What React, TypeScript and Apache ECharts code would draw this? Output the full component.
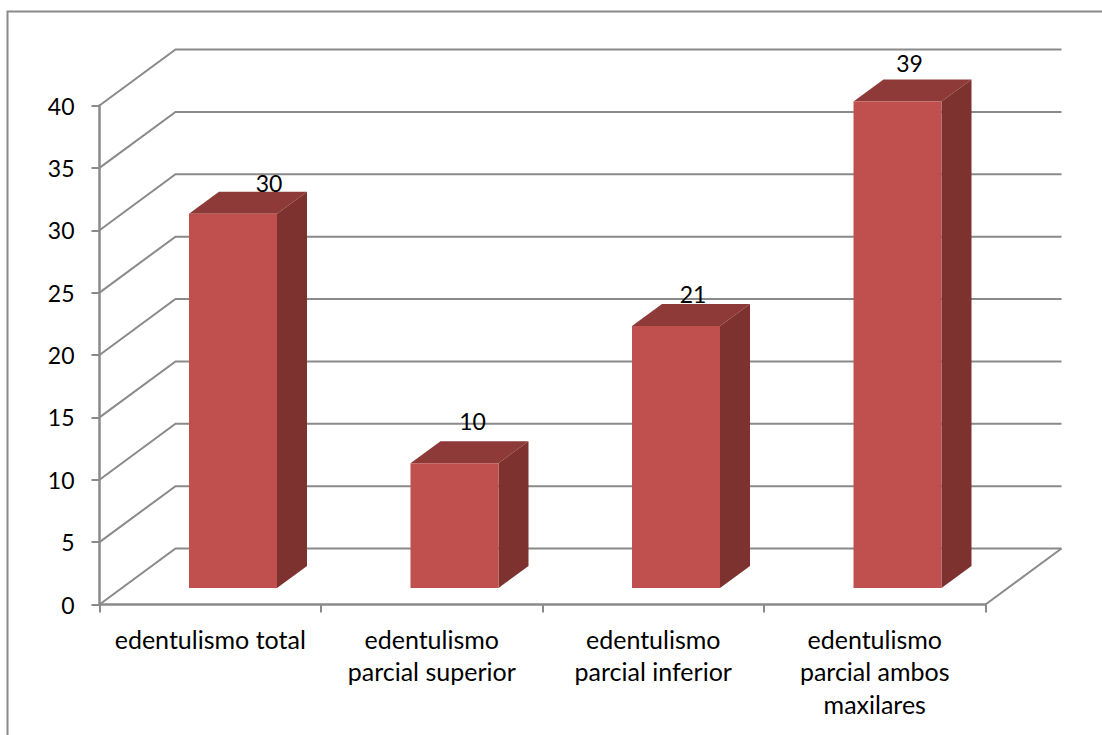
import React, { useEffect, useRef } from "react";
import * as echarts from "echarts";

const categories = [
  "edentulismo total",
  "edentulismo\nparcial superior",
  "edentulismo\nparcial inferior",
  "edentulismo\nparcial ambos\nmaxilares",
];
const seriesValues = [30, 10, 21, 39];
const yTicks = [0, 5, 10, 15, 20, 25, 30, 35, 40];

// Where each value label sits, relative to the middle of its bar's front top edge.
const labelOffsets = [
  [36, -31],
  [18, -42],
  [17, -32],
  [12, -38],
];

const FONT = "Lato, 'Open Sans', sans-serif";
const AXIS_GREY = "#8a8a8a";
const WALL = { dx: 76, dy: -56 };
const BAR = { width: 88, dx: 30, dy: -22, shiftX: 22.75, shiftY: -16.5 };

const renderWall = (params: any, api: any) => {
  const [x0, y] = api.coord([0, api.value(1)]);
  const left = x0 - api.size([1, 0])[0] / 2;
  const cs = params.coordSys;
  const isFloor = api.value(1) === 0;
  const children: any[] = [
    {
      type: "polyline",
      shape: {
        points: [
          [left, y],
          [left + WALL.dx, y + WALL.dy],
          [cs.x + cs.width + WALL.dx, y + WALL.dy],
        ],
      },
      style: { stroke: AXIS_GREY, lineWidth: 2, fill: "none" },
    },
  ];
  if (isFloor) {
    children.push({
      type: "line",
      shape: {
        x1: cs.x + cs.width,
        y1: y,
        x2: cs.x + cs.width + WALL.dx,
        y2: y + WALL.dy,
      },
      style: { stroke: AXIS_GREY, lineWidth: 2 },
    });
  }
  return { type: "group", children };
};

const renderBar = (params: any, api: any) => {
  const index = api.value(0);
  const value = api.value(1);
  const base = api.coord([index, 0]);
  const top = api.coord([index, value]);
  const x0 = base[0] + BAR.shiftX - BAR.width / 2;
  const x1 = x0 + BAR.width;
  const yBottom = base[1] + BAR.shiftY;
  const yTop = top[1] + BAR.shiftY;
  const [ox, oy] = labelOffsets[params.dataIndex];
  return {
    type: "group",
    children: [
      {
        type: "polygon",
        shape: {
          points: [
            [x0, yTop],
            [x0 + BAR.dx, yTop + BAR.dy],
            [x1 + BAR.dx, yTop + BAR.dy],
            [x1, yTop],
          ],
        },
        style: { fill: "#8e3a38" },
      },
      {
        type: "polygon",
        shape: {
          points: [
            [x1, yTop],
            [x1 + BAR.dx, yTop + BAR.dy],
            [x1 + BAR.dx, yBottom + BAR.dy],
            [x1, yBottom],
          ],
        },
        style: { fill: "#7d3230" },
      },
      {
        type: "rect",
        shape: { x: x0, y: yTop, width: BAR.width, height: yBottom - yTop },
        style: { fill: "#c0504d" },
      },
      {
        type: "text",
        x: (x0 + x1) / 2 + ox,
        y: yTop + oy,
        style: {
          text: String(value),
          fill: "#000000",
          font: `23px ${FONT}`,
          align: "center",
          verticalAlign: "middle",
        },
      },
    ],
  };
};

export default function App() {
  const ref = useRef<HTMLDivElement>(null);

  useEffect(() => {
    const chart = echarts.init(ref.current!, null, { renderer: "svg" });
    chart.setOption({
      animation: false,
      backgroundColor: "#ffffff",
      grid: { left: 99.5, top: 105.5, width: 886, height: 499 },
      graphic: [
        {
          type: "polyline",
          shape: {
            points: [
              [7.5, 735],
              [7.5, 11.5],
              [1102, 11.5],
            ],
          },
          style: { stroke: AXIS_GREY, lineWidth: 2, fill: "none" },
        },
      ],
      xAxis: {
        type: "category",
        data: categories,
        boundaryGap: true,
        axisLine: { lineStyle: { color: AXIS_GREY, width: 2.5 } },
        axisTick: { show: true, length: 8, alignWithLabel: false, lineStyle: { color: AXIS_GREY, width: 2 } },
        axisLabel: {
          interval: 0,
          color: "#000000",
          fontFamily: FONT,
          fontSize: 25,
          lineHeight: 32.5,
          margin: 18,
        },
        z: 5,
      },
      yAxis: {
        type: "value",
        min: 0,
        max: 40,
        interval: 5,
        axisLine: { show: true, lineStyle: { color: AXIS_GREY, width: 2.5 } },
        axisTick: { show: true, length: 8, lineStyle: { color: AXIS_GREY, width: 2 } },
        axisLabel: { color: "#000000", fontFamily: FONT, fontSize: 23, margin: 25 },
        splitLine: { show: false },
        z: 5,
      },
      series: [
        {
          type: "custom",
          renderItem: renderWall,
          data: yTicks.map((v) => [0, v]),
          clip: false,
          silent: true,
          z: 1,
        },
        {
          type: "custom",
          renderItem: renderBar,
          data: seriesValues.map((v, i) => [i, v]),
          clip: false,
          silent: true,
          z: 2,
        },
      ],
    });
    return () => chart.dispose();
  }, []);

  return <div ref={ref} style={{ position: "fixed", left: 0, top: 0, width: 1102, height: 735 }} />;
}
